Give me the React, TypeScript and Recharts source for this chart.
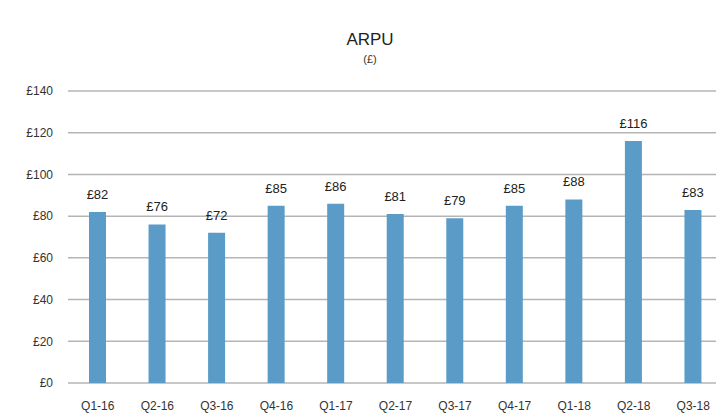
import React from 'react';
import { BarChart, Bar, XAxis, YAxis, CartesianGrid, LabelList } from 'recharts';

const quarters = ['Q1-16', 'Q2-16', 'Q3-16', 'Q4-16', 'Q1-17', 'Q2-17', 'Q3-17', 'Q4-17', 'Q1-18', 'Q2-18', 'Q3-18'];
const arpu = [82, 76, 72, 85, 86, 81, 79, 85, 88, 116, 83];
const yTicks = [0, 20, 40, 60, 80, 100, 120, 140];

const data = quarters.map((q, i) => ({ name: q, arpu: arpu[i] }));

const FONT = '"Liberation Sans", Arial, Helvetica, sans-serif';

const App: React.FC = () => {
  return (
    <div style={{ position: 'absolute', top: 0, left: 0, width: 716, height: 414, overflow: 'hidden', background: '#fff', fontFamily: FONT }}>
      <div style={{ position: 'absolute', left: 0, width: 740, top: 30, textAlign: 'center', fontSize: 17, color: '#222' }}>ARPU</div>
      <div style={{ position: 'absolute', left: 0, width: 740, top: 53, textAlign: 'center', fontSize: 11, color: '#333' }}>(£)</div>
      <BarChart
        width={732}
        height={414}
        data={data}
        margin={{ top: 91, right: 9, left: 0, bottom: 0 }}
        barSize={17}
        style={{ overflow: 'visible' }}
      >
        <CartesianGrid vertical={false} stroke="#b5b5b5" strokeWidth={1.5} />
        <XAxis
          dataKey="name"
          axisLine={false}
          tickLine={false}
          tickSize={0}
          tickMargin={18}
          height={31}
          interval={0}
          tick={{ fontSize: 12, fill: '#333', fontFamily: FONT }}
        />
        <YAxis
          width={68}
          domain={[0, 140]}
          ticks={yTicks}
          axisLine={false}
          tickLine={false}
          tickSize={0}
          tickMargin={15}
          tickFormatter={(v: number) => `£${v}`}
          tick={{ fontSize: 12, fill: '#333', fontFamily: FONT }}
        />
        <Bar dataKey="arpu" fill="#5b9bc8" isAnimationActive={false}>
          <LabelList
            dataKey="arpu"
            position="top"
            offset={13}
            formatter={(v: number) => `£${v}`}
            style={{ fontSize: 13, fill: '#222', fontFamily: FONT }}
          />
        </Bar>
      </BarChart>
    </div>
  );
};

export default App;
